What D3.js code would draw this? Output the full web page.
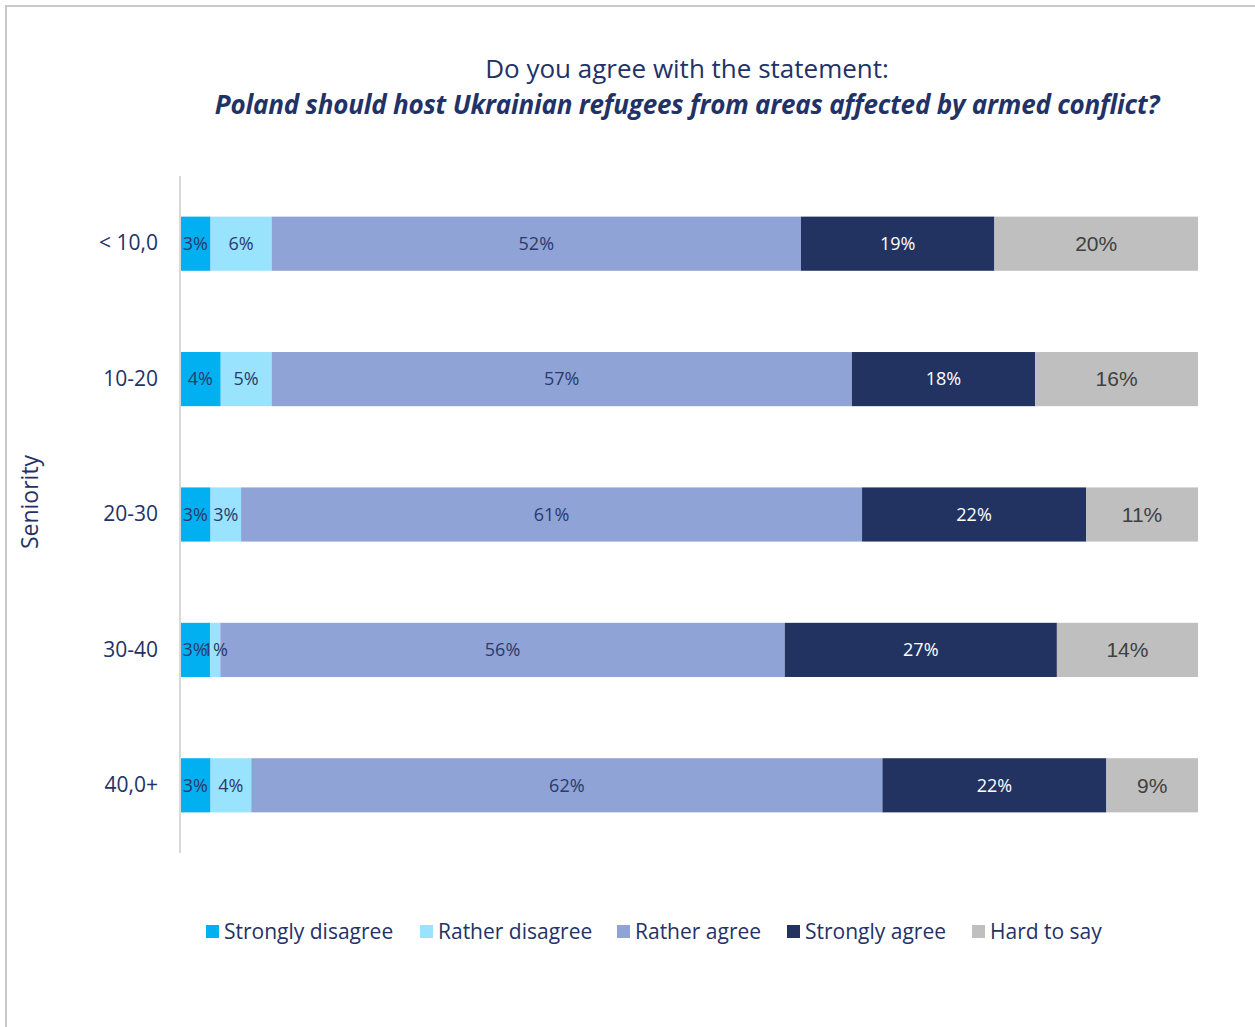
<!DOCTYPE html>
<html>
<head>
<meta charset="utf-8">
<script src="https://cdn.jsdelivr.net/npm/d3@7"></script>
<style>
  html, body { margin: 0; padding: 0; background: #fff; }
  svg { display: block; }
</style>
</head>
<body>
<svg id="chart" width="1255" height="1027"></svg>
<script>
// Seniority groups (years) and answer categories
const groups = ["< 10,0", "10-20", "20-30", "30-40", "40,0+"];
const answers = ["Strongly disagree", "Rather disagree", "Rather agree", "Strongly agree", "Hard to say"];

// Share of answers (%) per seniority group, one array per answer
const stronglyDisagree = [3, 4, 3, 3, 3];
const ratherDisagree   = [6, 5, 3, 1, 4];
const ratherAgree      = [52, 57, 61, 56, 62];
const stronglyAgree    = [19, 18, 22, 27, 22];
const hardToSay        = [20, 16, 11, 14, 9];

const colors = ["#00B0F0", "#99E3FF", "#8FA3D7", "#223361", "#BFBFBF"];
const labelColors = ["#2A3A6A", "#2A3A6A", "#2A3A6A", "#FFFFFF", "#404040"];

const table = groups.map((g, i) => ({
  group: g,
  "Strongly disagree": stronglyDisagree[i],
  "Rather disagree": ratherDisagree[i],
  "Rather agree": ratherAgree[i],
  "Strongly agree": stronglyAgree[i],
  "Hard to say": hardToSay[i]
}));

const svg = d3.select("#chart");
const navy = "#233266";

// Outer frame
svg.append("rect")
  .attr("x", 6).attr("y", 6)
  .attr("width", 1300).attr("height", 1100)
  .attr("fill", "none")
  .attr("stroke", "#C9C9C9")
  .attr("stroke-width", 2);

// Title
const title = svg.append("text")
  .attr("x", 687).attr("text-anchor", "middle")
  .attr("fill", navy);
title.append("tspan")
  .attr("x", 687).attr("y", 78)
  .style("font-family", "'Open Sans', sans-serif")
  .style("font-size", "26px")
  .text("Do you agree with the statement:");
title.append("tspan")
  .attr("x", 687).attr("y", 114)
  .style("font-family", "'Open Sans', sans-serif")
  .style("font-size", "26px")
  .style("font-weight", "bold")
  .style("font-style", "italic")
  .style("letter-spacing", "-0.2px")
  .text("Poland should host Ukrainian refugees from areas affected by armed conflict?");

// Scales
const x = d3.scaleLinear().domain([0, 1]).range([180, 1198]);
const y = d3.scaleBand().domain(groups).range([176, 853])
  .paddingInner(0.6).paddingOuter(0.3);

const stack = d3.stack().keys(answers).offset(d3.stackOffsetExpand);
const series = stack(table);

// Bars
const layers = svg.append("g").selectAll("g")
  .data(series)
  .join("g")
  .attr("fill", (d, i) => colors[i]);

layers.selectAll("rect")
  .data(d => d)
  .join("rect")
  .attr("x", d => x(d[0]))
  .attr("y", d => y(d.data.group))
  .attr("width", d => x(d[1]) - x(d[0]))
  .attr("height", y.bandwidth());

// Value labels, drawn above every bar segment
const labelLayers = svg.append("g").selectAll("g")
  .data(series)
  .join("g");

labelLayers.each(function(s, i) {
  d3.select(this).selectAll("text")
    .data(s)
    .join("text")
    .attr("x", d => (x(d[0]) + x(d[1])) / 2)
    .attr("y", d => y(d.data.group) + y.bandwidth() / 2)
    .attr("dy", "0.35em")
    .attr("text-anchor", "middle")
    .attr("fill", labelColors[i])
    .style("font-family", i === 4 ? "'Liberation Sans', Arial, sans-serif" : "'Open Sans', sans-serif")
    .style("font-size", i === 4 ? "21px" : "18px")
    .text(d => d.data[s.key] + "%");
});

// Category axis
const yAxis = svg.append("g")
  .attr("transform", "translate(180,0)")
  .call(d3.axisLeft(y).tickSize(0).tickPadding(22));
yAxis.select(".domain")
  .attr("d", "M0,176V853")
  .attr("stroke", "#D9D9D9")
  .attr("stroke-width", 2);
yAxis.selectAll("text")
  .attr("fill", navy)
  .style("font-family", "'Open Sans', sans-serif")
  .style("font-size", "21px");

// Axis title
svg.append("text")
  .attr("transform", "translate(38,502) rotate(-90)")
  .attr("text-anchor", "middle")
  .attr("fill", navy)
  .style("font-family", "'Open Sans', sans-serif")
  .style("font-size", "23px")
  .text("Seniority");

// Legend
const legendX = [206, 420, 617, 787, 972];
const legend = svg.append("g").selectAll("g")
  .data(answers)
  .join("g")
  .attr("transform", (d, i) => `translate(${legendX[i]},932)`);
legend.append("rect")
  .attr("x", 0).attr("y", -7)
  .attr("width", 13).attr("height", 13)
  .attr("fill", (d, i) => colors[i]);
legend.append("text")
  .attr("x", 18).attr("y", 0)
  .attr("dy", "0.35em")
  .attr("fill", navy)
  .style("font-family", "'Open Sans', sans-serif")
  .style("font-size", "21px")
  .text(d => d);
</script>
</body>
</html>
